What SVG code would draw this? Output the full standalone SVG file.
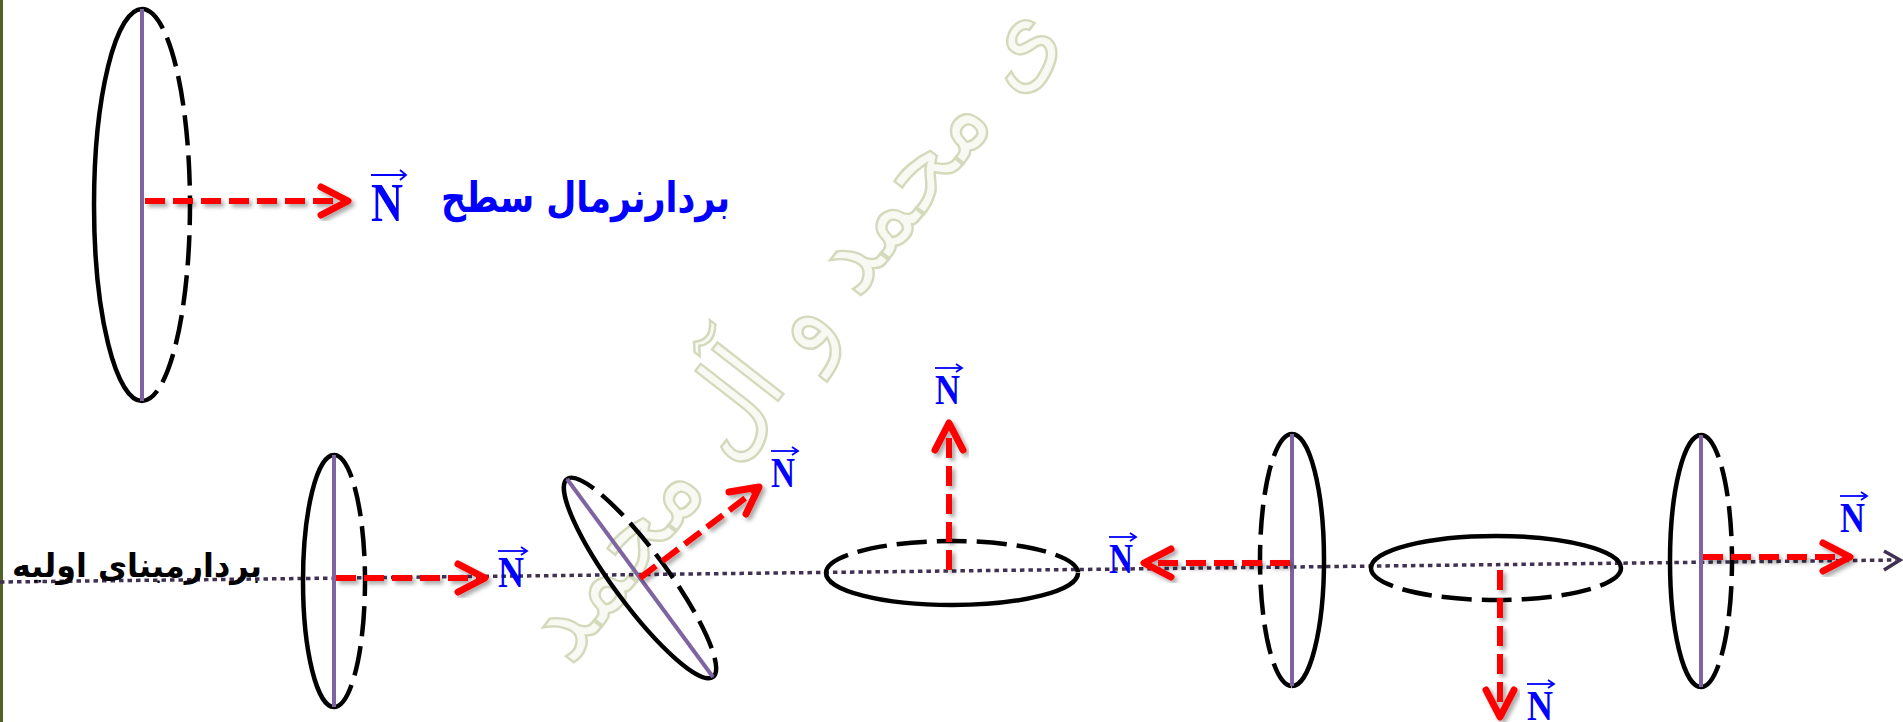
<svg xmlns="http://www.w3.org/2000/svg" width="1903" height="722" viewBox="0 0 1903 722">
<defs>
<style>
.solid{fill:none;stroke:#000;stroke-width:4.5}
.dash{fill:none;stroke:#000;stroke-width:4.5;stroke-dasharray:30 10}
.axis{stroke:#8064A2;stroke-width:4}
.shaft{fill:none;stroke:#FF0000;stroke-width:6;stroke-dasharray:20 8}
.head{fill:none;stroke:#FF0000;stroke-width:7;stroke-linecap:round;stroke-linejoin:round}
.nl{font-family:"Liberation Serif",serif;font-weight:bold;fill:#0000FF}
.ov{fill:none;stroke:#0000FF;stroke-width:1.8}
.fa{font-family:"DejaVu Sans",sans-serif;font-weight:bold}
</style>
<filter id="sh" x="-20%" y="-20%" width="140%" height="140%">
<feDropShadow dx="3" dy="3" stdDeviation="2" flood-color="#000" flood-opacity="0.35"/>
</filter>
</defs>
<rect width="1903" height="722" fill="#fff"/>
<rect x="0" y="0" width="3" height="722" fill="#4F6228"/>

<g id="watermark">
<text x="0" y="0" transform="translate(570,667) rotate(-52)" font-family="DejaVu Sans, sans-serif" font-size="110" textLength="800" lengthAdjust="spacingAndGlyphs" fill="#f8f9f2" stroke="#d3dabb" stroke-width="2.5">ی محمد و آل محمد</text>
</g>

<g id="connectors">
<line x1="0" y1="582" x2="1896" y2="560" stroke="#403152" stroke-width="3.5" stroke-dasharray="4.5 4"/>
<polyline points="1884,551 1900,560 1884,570" fill="none" stroke="#403152" stroke-width="3.5"/>
</g>

<g id="disk1">
<path class="solid" d="M142,9 A48,196 0 0 0 142,401"/>
<path class="dash" d="M142,9 A48,196 0 0 1 142,401"/>
<line class="axis" x1="142" y1="9" x2="142" y2="401"/>
<g filter="url(#sh)">
<line class="shaft" x1="145" y1="201" x2="344" y2="201"/>
<polyline class="head" points="321,187 348,201 321,215"/>
</g>
<text class="nl" x="371" y="221" font-size="54" textLength="32" lengthAdjust="spacingAndGlyphs">N</text>
<line class="ov" x1="371" y1="175" x2="405" y2="175"/>
<polyline class="ov" points="400,170 406,175 400,180"/>
</g>

<g id="label-normal">
<text class="fa" x="441" y="212" font-size="42" fill="#0000FF" textLength="289" lengthAdjust="spacingAndGlyphs">بردارنرمال سطح</text>
</g>

<g id="label-base">
<text class="fa" x="12" y="577" font-size="33" fill="#000" textLength="250" lengthAdjust="spacingAndGlyphs">بردارمبنای اولیه</text>
</g>

<g id="disk2">
<path class="solid" d="M334,455 A31,126 0 0 0 334,707"/>
<path class="dash" d="M334,455 A31,126 0 0 1 334,707"/>
<line class="axis" x1="334" y1="455" x2="334" y2="707"/>
<g filter="url(#sh)">
<line class="shaft" x1="336" y1="578" x2="481" y2="578"/>
<polyline class="head" points="458,564 485,578 458,592"/>
</g>
<text class="nl" x="498" y="587" font-size="44" textLength="26" lengthAdjust="spacingAndGlyphs">N</text>
<line class="ov" x1="498" y1="551" x2="526" y2="551"/>
<polyline class="ov" points="521,547 527,551 521,555"/>
</g>

<g id="disk3">
<g transform="rotate(-36.4 640 578)">
<path class="solid" d="M640,455 A27,123 0 0 0 640,701"/>
<path class="dash" d="M640,455 A27,123 0 0 1 640,701"/>
<line class="axis" x1="640" y1="455" x2="640" y2="701"/>
</g>
<g filter="url(#sh)">
<line class="shaft" x1="640" y1="578" x2="756" y2="490"/>
<polyline class="head" points="729,492 759,487 746,514"/>
</g>
<text class="nl" x="771" y="487" font-size="42" textLength="24" lengthAdjust="spacingAndGlyphs">N</text>
<line class="ov" x1="771" y1="451" x2="797" y2="451"/>
<polyline class="ov" points="792,447 798,451 792,455"/>
</g>

<g id="disk4">
<path class="dash" d="M826,573 A126,32 0 0 1 1078,573"/>
<path class="solid" d="M826,573 A126,32 0 0 0 1078,573"/>
<line class="axis" x1="826" y1="572" x2="1078" y2="572" filter="url(#sh)"/>
<g filter="url(#sh)">
<line class="shaft" x1="949" y1="570" x2="949" y2="427"/>
<polyline class="head" points="935,450 949,423 963,450"/>
</g>
<text class="nl" x="935" y="404" font-size="42" textLength="25" lengthAdjust="spacingAndGlyphs">N</text>
<line class="ov" x1="935" y1="368" x2="961" y2="368"/>
<polyline class="ov" points="956,364 962,368 956,372"/>
</g>

<g id="disk5">
<path class="dash" d="M1292,434 A32,126 0 0 0 1292,686"/>
<path class="solid" d="M1292,434 A32,126 0 0 1 1292,686"/>
<line class="axis" x1="1292" y1="434" x2="1292" y2="686"/>
<g filter="url(#sh)">
<line class="shaft" x1="1290" y1="563" x2="1148" y2="563"/>
<polyline class="head" points="1171,549 1144,563 1171,577"/>
</g>
<text class="nl" x="1109" y="573" font-size="42" textLength="24" lengthAdjust="spacingAndGlyphs">N</text>
<line class="ov" x1="1109" y1="537" x2="1135" y2="537"/>
<polyline class="ov" points="1130,533 1136,537 1130,541"/>
</g>

<g id="disk6">
<path class="solid" d="M1371,568 A125,32 0 0 1 1621,568"/>
<path class="dash" d="M1371,568 A125,32 0 0 0 1621,568"/>
<line class="axis" x1="1371" y1="568" x2="1621" y2="568" filter="url(#sh)"/>
<g filter="url(#sh)">
<line class="shaft" x1="1500" y1="570" x2="1500" y2="713"/>
<polyline class="head" points="1486,690 1500,717 1514,690"/>
</g>
<text class="nl" x="1527" y="720" font-size="42" textLength="26" lengthAdjust="spacingAndGlyphs">N</text>
<line class="ov" x1="1527" y1="684" x2="1553" y2="684"/>
<polyline class="ov" points="1548,680 1554,684 1548,688"/>
</g>

<g id="disk7">
<path class="solid" d="M1701,435 A31,126 0 0 0 1701,687"/>
<path class="dash" d="M1701,435 A31,126 0 0 1 1701,687"/>
<line class="axis" x1="1701" y1="435" x2="1701" y2="687"/>
<g filter="url(#sh)">
<line class="shaft" x1="1703" y1="557" x2="1846" y2="557"/>
<polyline class="head" points="1823,543 1850,557 1823,571"/>
</g>
<text class="nl" x="1840" y="532" font-size="42" textLength="25" lengthAdjust="spacingAndGlyphs">N</text>
<line class="ov" x1="1840" y1="496" x2="1866" y2="496"/>
<polyline class="ov" points="1861,492 1867,496 1861,500"/>
</g>
</svg>
